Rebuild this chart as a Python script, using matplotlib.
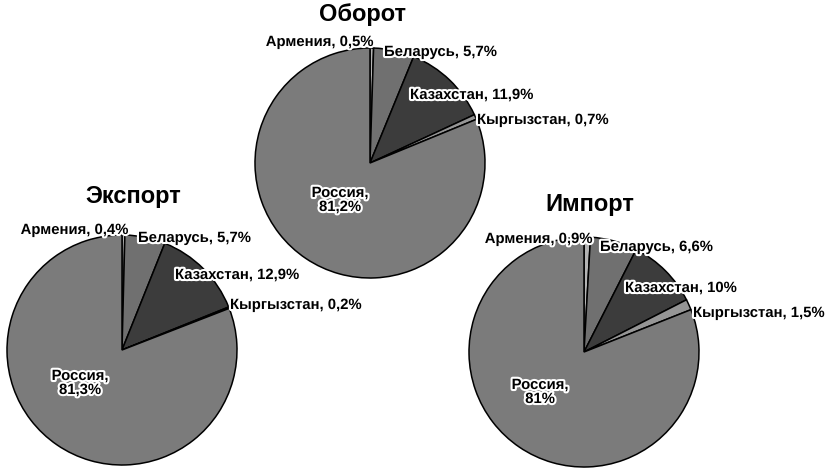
import matplotlib.pyplot as plt
import matplotlib.patheffects as pe

plt.rcParams['font.family'] = ['Liberation Sans', 'DejaVu Sans']

countries = ["Армения", "Беларусь", "Казахстан", "Кыргызстан", "Россия"]
colors = ["#b4b4b4", "#707070", "#3c3c3c", "#959595", "#7b7b7b"]

titles = ["Оборот", "Экспорт", "Импорт"]
turnover = [0.5, 5.7, 11.9, 0.7, 81.2]
export = [0.4, 5.7, 12.9, 0.2, 81.3]
imports = [0.9, 6.6, 10, 1.5, 81]
pct_labels = [
    ["0,5%", "5,7%", "11,9%", "0,7%", "81,2%"],
    ["0,4%", "5,7%", "12,9%", "0,2%", "81,3%"],
    ["0,9%", "6,6%", "10%", "1,5%", "81%"],
]
series = [turnover, export, imports]

W, H = 831, 473
# pie centres (pixels from top-left), radius, title position
centers = [(370, 163), (122, 350), (584, 352)]
radius = 115
title_pos = [(362, 15), (133, 196), (590, 204)]
# label offsets from pie centre (dx, dy in pixels, y down) and alignment
label_offsets = [
    [(3, -121, "right"), (14, -111, "left"), (40, -68, "left"), (107, -43, "left"), (-30, 37, "center")],
    [(6, -120, "right"), (16, -112, "left"), (53, -75, "left"), (108, -45, "left"), (-42, 33, "center")],
    [(8, -113, "right"), (16, -105, "left"), (41, -64, "left"), (109, -39, "left"), (-44, 40, "center")],
]

fig = plt.figure(figsize=(W / 100, H / 100), dpi=100)
ax = fig.add_axes([0, 0, 1, 1])
ax.set_xlim(0, W)
ax.set_ylim(0, H)
ax.set_aspect("equal")
ax.axis("off")

halo = [pe.withStroke(linewidth=3, foreground="white")]

for vals, labels, (cx, cy), offs, title, (tx, ty) in zip(series, pct_labels, centers, label_offsets, titles, title_pos):
    ax.pie(vals, colors=colors, startangle=90, counterclock=False,
           center=(cx, H - cy), radius=radius,
           wedgeprops=dict(edgecolor="black", linewidth=1.1))
    ax.text(tx, H - ty, title, ha="center", va="center", fontsize=17, fontweight="bold")
    for name, lab, (dx, dy, ha) in zip(countries, labels, offs):
        if name == "Россия":
            txt = f"{name},\n{lab}"
        else:
            txt = f"{name}, {lab}"
        ax.text(cx + dx, H - (cy + dy), txt, ha=ha, va="center", fontsize=10.7,
                fontweight="bold", linespacing=1.0, path_effects=halo)

ax.set_xlim(0, W)
ax.set_ylim(0, H)
fig.savefig("out.png", dpi=100)
